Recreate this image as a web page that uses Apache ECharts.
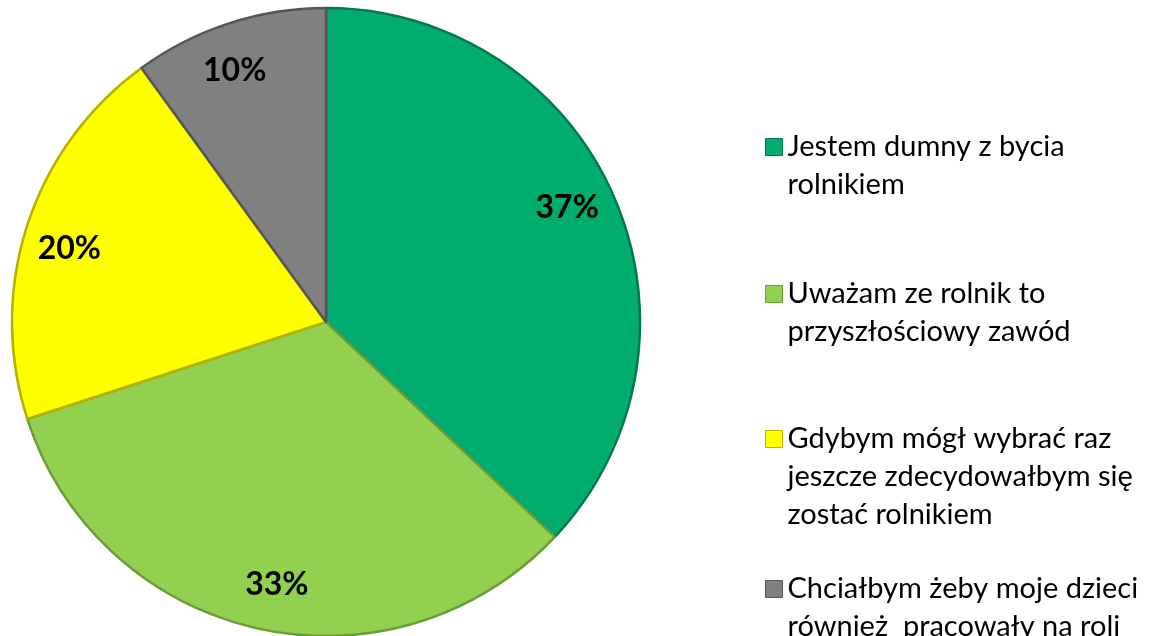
<!DOCTYPE html>
<html>
<head>
<meta charset="utf-8">
<script src="https://cdn.jsdelivr.net/npm/echarts@6/dist/echarts.min.js"></script>
<style>
  html, body { margin: 0; padding: 0; background: #fff; }
  #pieCharts { width: 1151px; height: 636px; }
</style>
</head>
<body>
<div id="pieCharts"></div>
<script>
// dane wykresu
const categories = [
  'Jestem dumny z bycia\nrolnikiem',
  'Uważam ze rolnik to\nprzyszłościowy zawód',
  'Gdybym mógł wybrać raz\njeszcze zdecydowałbym się\nzostać rolnikiem',
  'Chciałbym żeby moje dzieci\nrównież  pracowały na roli'
];
const percents = [37, 33, 20, 10];
const colors = ['#00ad6e', '#92d050', '#ffff00', '#808080'];
const edgeColors = ['#007a4d', '#6b9c36', '#b3b300', '#555555'];

const center = [326, 322];
const radius = 314;
const lineH = 38;
// srodki ikon legendy (y)
const legendCenters = [147, 294, 439, 589];

const chart = echarts.init(document.getElementById('pieCharts'));

const pieData = categories.map((name, i) => ({
  name: name,
  value: percents[i],
  itemStyle: { color: colors[i], borderColor: edgeColors[i] }
}));

// osobna legenda dla kazdej pozycji, pierwsza linia tekstu na wysokosci ikony
const legends = categories.map((name, i) => {
  const lines = name.split('\n').length;
  return {
    data: [{ name: name }],
    orient: 'vertical',
    left: 765,
    top: legendCenters[i] - (2 * lines - 1) * lineH / 2,
    padding: 0,
    icon: 'rect',
    itemWidth: 17,
    itemHeight: 17,
    selectedMode: false,
    itemStyle: { borderColor: edgeColors[i], borderWidth: 1 },
    formatter: (n) => '\n'.repeat(lines - 1) + n,
    textStyle: {
      fontFamily: 'Lato',
      fontSize: 29,
      color: '#000',
      lineHeight: lineH
    }
  };
});

const option = {
  animation: false,
  legend: legends,
  series: [
    {
      name: 'main',
      type: 'pie',
      center: center,
      radius: [0, radius],
      startAngle: 90,
      label: { show: false },
      labelLine: { show: false },
      emphasis: { disabled: true },
      itemStyle: { borderWidth: 2.5 },
      data: pieData
    },
    {
      // warstwa tylko na etykiety, blizej krawedzi kola
      name: 'labels',
      type: 'pie',
      center: center,
      radius: [214, radius],
      startAngle: 92,
      silent: true,
      itemStyle: { color: 'transparent' },
      label: {
        show: true,
        position: 'inside',
        formatter: '{c}%',
        fontFamily: 'Lato',
        fontWeight: 'bold',
        fontSize: 32,
        color: '#000'
      },
      labelLine: { show: false },
      emphasis: { disabled: true },
      data: categories.map((name, i) => ({ name: name, value: percents[i] }))
    }
  ]
};

chart.setOption(option);
</script>
</body>
</html>
